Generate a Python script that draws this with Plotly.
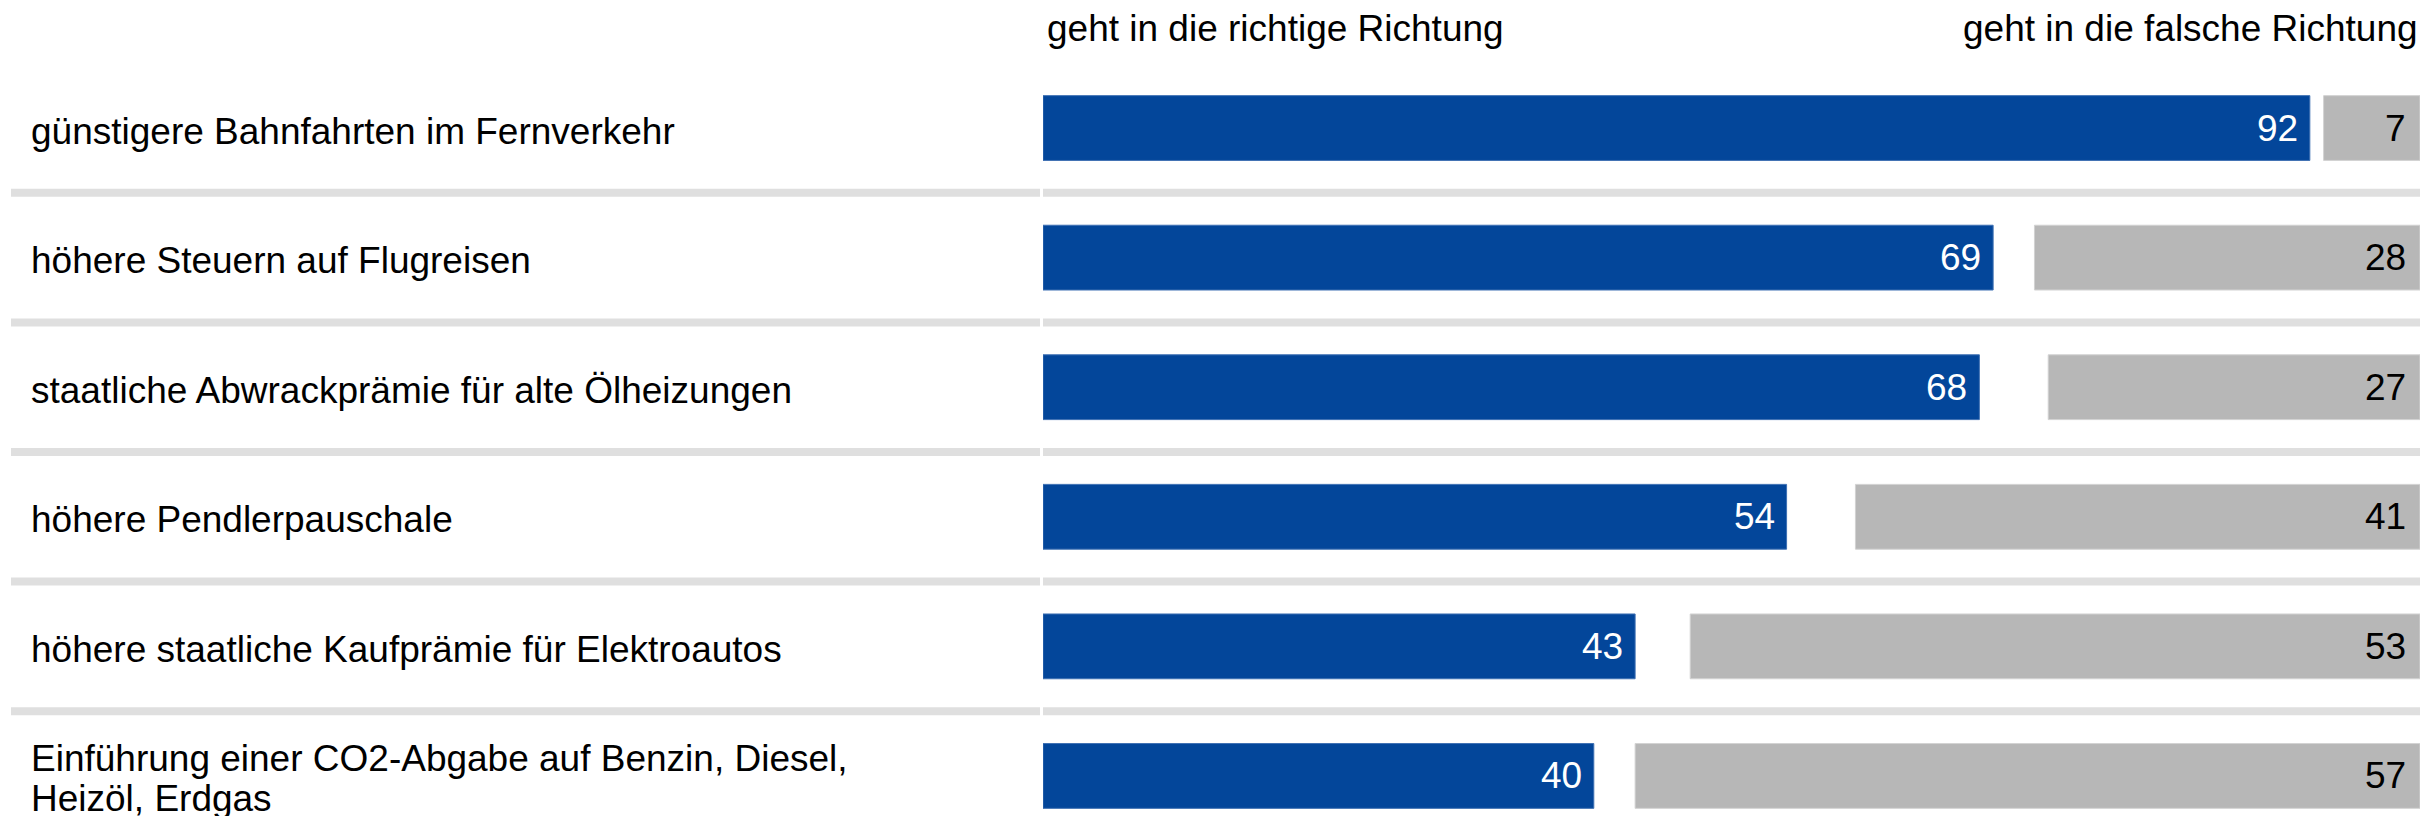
import plotly.graph_objects as go

# ---- data ----
categories = [
    "günstigere Bahnfahrten im Fernverkehr",
    "höhere Steuern auf Flugreisen",
    "staatliche Abwrackprämie für alte Ölheizungen",
    "höhere Pendlerpauschale",
    "höhere staatliche Kaufprämie für Elektroautos",
    "Einführung einer CO2-Abgabe auf Benzin, Diesel,<br>Heizöl, Erdgas",
]
richtig = [92, 69, 68, 54, 43, 40]
falsch = [7, 28, 27, 41, 53, 57]
header_left = "geht in die richtige Richtung"
header_right = "geht in die falsche Richtung"

W, H = 2420, 816
FONT = "Liberation Sans, Arial, sans-serif"
FS = 37
BLUE = "#03469A"
GREY = "#B7B7B7"
SEP = "#DFDFDF"

n = len(categories)
ypos = list(range(n))
total = 100

fig = go.Figure()
fig.add_trace(go.Bar(
    x=richtig, y=ypos, base=[0] * n, orientation="h", width=0.5,
    marker=dict(color=BLUE, line=dict(color="#3E70B3", width=1)),
    hoverinfo="skip", showlegend=False,
))
fig.add_trace(go.Bar(
    x=falsch, y=ypos, base=[total - f for f in falsch], orientation="h", width=0.5,
    marker=dict(color=GREY, line=dict(color="#D2D2D2", width=1)),
    hoverinfo="skip", showlegend=False,
))

annotations = []
# value labels
for i in range(n):
    annotations.append(dict(
        x=richtig[i], y=ypos[i], xref="x", yref="y", text=str(richtig[i]),
        xanchor="right", yanchor="middle", xshift=-10, showarrow=False,
        font=dict(family=FONT, size=FS, color="white"),
    ))
    annotations.append(dict(
        x=total, y=ypos[i], xref="x", yref="y", text=str(falsch[i]),
        xanchor="right", yanchor="middle", xshift=-12, showarrow=False,
        font=dict(family=FONT, size=FS, color="black"),
    ))
# category labels
for i, cat in enumerate(categories):
    lines = cat.split("<br>")
    k = len(lines)
    for j, ln in enumerate(lines):
        shift = (k - 1) / 2 * 40 - j * 40
        annotations.append(dict(
            x=29 / W, y=ypos[i], xref="paper", yref="y", text=ln,
            xanchor="left", yanchor="middle", yshift=shift - 3, showarrow=False,
            font=dict(family=FONT, size=FS, color="black"),
        ))
# headers
annotations.append(dict(
    x=1045 / W, y=1 - 29 / H, xref="paper", yref="paper", text=header_left,
    xanchor="left", yanchor="middle", showarrow=False,
    font=dict(family=FONT, size=FS, color="black"),
))
annotations.append(dict(
    x=1, y=1 - 29 / H, xref="paper", yref="paper", text=header_right,
    xanchor="right", yanchor="middle", xshift=0, showarrow=False,
    font=dict(family=FONT, size=FS, color="black"),
))

shapes = []
for i in range(n - 1):
    yy = ypos[i] + 0.5
    shapes.append(dict(type="line", xref="paper", yref="y", x0=11 / W, x1=1040 / W,
                       y0=yy, y1=yy, line=dict(color=SEP, width=8), layer="below"))
    shapes.append(dict(type="line", xref="paper", yref="y", x0=1043 / W, x1=1,
                       y0=yy, y1=yy, line=dict(color=SEP, width=8), layer="below"))

fig.update_layout(
    width=W, height=H,
    margin=dict(l=0, r=0, t=0, b=0),
    paper_bgcolor="white", plot_bgcolor="white",
    barmode="overlay",
    xaxis=dict(domain=[1043 / W, 1], range=[0, total], visible=False, fixedrange=True),
    yaxis=dict(range=[5.309, -0.988], visible=False, fixedrange=True),
    annotations=annotations,
    shapes=shapes,
    font=dict(family=FONT, size=FS),
)

fig.write_html(
    "out.html",
    config={"displayModeBar": False},
    post_script="document.body.style.margin='0';document.body.style.overflow='hidden';",
)
